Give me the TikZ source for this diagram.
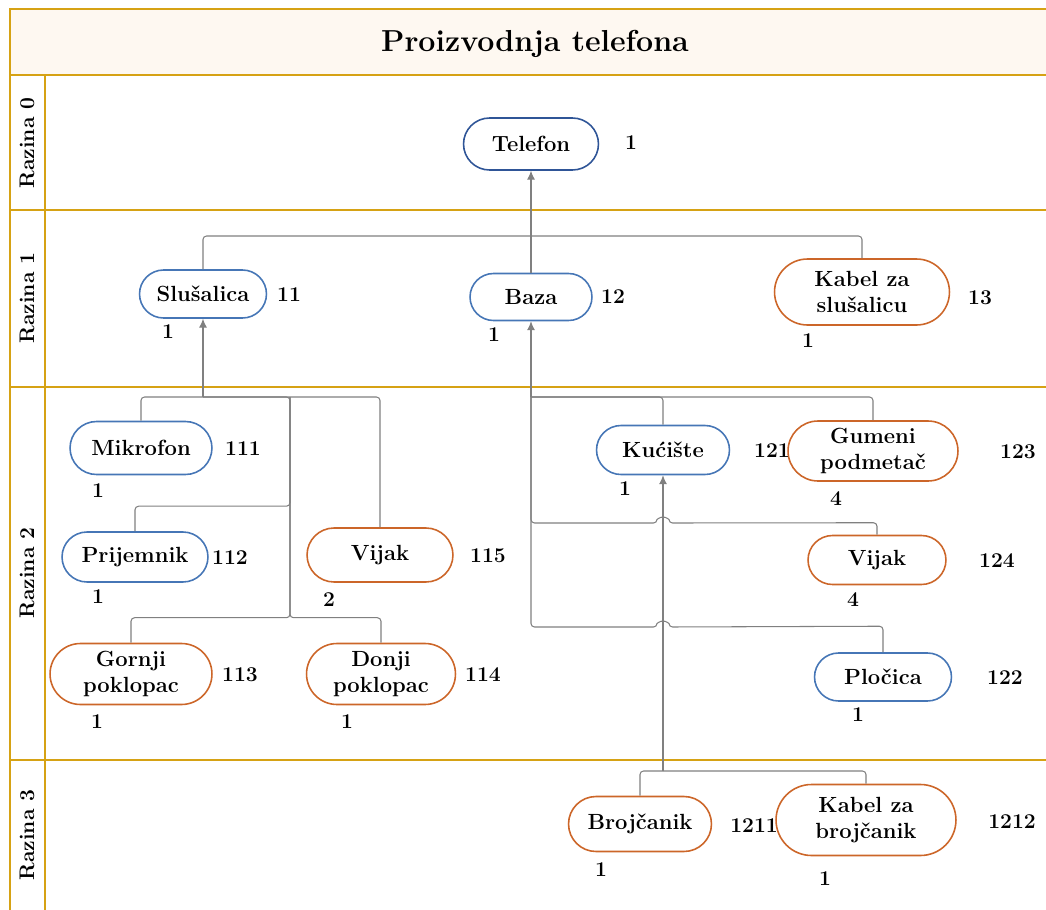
\documentclass[tikz,border=0pt]{standalone}
\usepackage{fontspec}
\usepackage{tikz}
\usetikzlibrary{arrows.meta,shapes.misc}
\definecolor{lanegold}{RGB}{214,162,20}
\definecolor{titlefill}{RGB}{254,248,241}
\definecolor{partblue}{RGB}{70,118,182}
\definecolor{topblue}{RGB}{47,85,151}
\definecolor{partorange}{RGB}{204,102,41}
\definecolor{linkgray}{RGB}{128,128,128}

\begin{document}
\begin{tikzpicture}[x=0.02cm, y=-0.02cm,
    part/.style={draw, line width=0.9pt, rounded rectangle, align=center,
        font=\fontsize{12.5}{15}\selectfont\bfseries, inner sep=2pt},
    make/.style={part, draw=partblue},
    buy/.style={part, draw=partorange},
    num/.style={font=\large\bfseries, inner sep=1pt},
    lane/.style={font=\large\bfseries, rotate=90},
    link/.style={draw=linkgray, line width=0.6pt, rounded corners=2pt},
    feed/.style={link, -{Latex[length=5pt,width=4.5pt]}}]

    \useasboundingbox (0,0) rectangle (1046,910);

    % lanes
    \fill[titlefill] (10,9) rectangle (1046,75);
    \draw[lanegold, line width=0.8pt] (1046,9) -- (10,9) -- (10,910);
    \draw[lanegold, line width=0.8pt] (10,75) -- (1046,75);
    \draw[lanegold, line width=0.8pt] (45,75) -- (45,910);
    \foreach \y in {210,387,760}
        \draw[lanegold, line width=1.1pt] (10,\y) -- (1046,\y);
    \node (title) at (535,44) {\LARGE\bfseries Proizvodnja telefona};
    \foreach \lvl/\y in {0/143,1/298,2/573,3/835}
        \node[lane] (lane\lvl) at (27,\y) {Razina \lvl};

    % razina 0 i 1
    \node[make, draw=topblue, minimum width=2.84cm, minimum height=1.04cm] (tel) at (531,144) {Telefon};
    \node[make, minimum width=2.68cm, minimum height=0.96cm] (slu) at (203,294) {Slušalica};
    \node[make, minimum width=2.58cm, minimum height=0.94cm] (baza) at (531,297) {Baza};
    \node[buy, minimum width=3.64cm, minimum height=1.32cm] (kab) at (862,292) {Kabel za\\slušalicu};

    % razina 2
    \node[make, minimum width=2.98cm, minimum height=1.06cm] (mik) at (141,448) {Mikrofon};
    \node[make, minimum width=3.06cm, minimum height=1.0cm] (pri) at (135,557) {Prijemnik};
    \node[buy, minimum width=3.06cm, minimum height=1.08cm] (vijA) at (380,555) {Vijak};
    \node[buy, minimum width=3.38cm, minimum height=1.22cm] (gor) at (131,674) {Gornji\\poklopac};
    \node[buy, minimum width=3.12cm, minimum height=1.22cm] (don) at (381,674) {Donji\\poklopac};
    \node[make, minimum width=2.8cm, minimum height=0.98cm] (kuc) at (663,450) {Kućište};
    \node[buy, minimum width=3.54cm, minimum height=1.2cm] (gum) at (873,451) {Gumeni\\podmetač};
    \node[buy, minimum width=2.9cm, minimum height=0.98cm] (vijB) at (877,560) {Vijak};
    \node[make, minimum width=2.88cm, minimum height=0.96cm] (plo) at (883,677) {Pločica};

    % razina 3
    \node[buy, minimum width=3.0cm, minimum height=1.1cm] (bro) at (640,824) {Brojčanik};
    \node[buy, minimum width=3.74cm, minimum height=1.42cm] (kbr) at (866,820) {Kabel za\\brojčanik};

    % sifre i kolicine
    \node[num] (tel-no) at (631,143) {1};
    \node[num] (slu-no) at (289,295) {11};   \node[num] (slu-qty) at (168,332) {1};
    \node[num] (baza-no) at (613,297) {12};  \node[num] (baza-qty) at (494,335) {1};
    \node[num] (kab-no) at (980,298) {13};   \node[num] (kab-qty) at (808,341) {1};
    \node[num] (mik-no) at (243,449) {111};  \node[num] (mik-qty) at (98,491) {1};
    \node[num] (pri-no) at (230,558) {112};  \node[num] (pri-qty) at (98,597) {1};
    \node[num] (vijA-no) at (488,556) {115}; \node[num] (vijA-qty) at (329,600) {2};
    \node[num] (gor-no) at (240,675) {113};  \node[num] (gor-qty) at (97,722) {1};
    \node[num] (don-no) at (483,675) {114};  \node[num] (don-qty) at (347,722) {1};
    \node[num] (kuc-no) at (772,451) {121};  \node[num] (kuc-qty) at (625,489) {1};
    \node[num] (gum-no) at (1018,452) {123}; \node[num] (gum-qty) at (836,499) {4};
    \node[num] (vijB-no) at (997,561) {124}; \node[num] (vijB-qty) at (853,600) {4};
    \node[num] (plo-no) at (1005,678) {122}; \node[num] (plo-qty) at (858,715) {1};
    \node[num] (bro-no) at (754,826) {1211}; \node[num] (bro-qty) at (601,870) {1};
    \node[num] (kbr-no) at (1012,822) {1212};\node[num] (kbr-qty) at (825,879) {1};

    % veze
    \coordinate (busT) at (531,236);
    \coordinate (busS) at (203,397);
    \coordinate (jS) at (290,397);
    \coordinate (busB) at (531,397);
    \coordinate (busK) at (663,771);

    \draw[feed] (baza.north) -- (tel.south);
    \draw[link] (slu.north) |- (busT);
    \draw[link] (kab.north) |- (busT);

    \draw[feed] (busS) -- (slu.south);
    \draw[link] (mik.north) |- (busS);
    \draw[link] (vijA.north) |- (busS);
    \draw[link] (pri.north) -- ++(0,-25) -| (jS) -- (busS);
    \draw[link] (gor.north) -- ++(0,-25) -| (jS);
    \draw[link] (don.north) -- ++(0,-25) -| (jS);

    \draw[feed] (busB) -- (baza.south);
    \draw[link] (kuc.north) |- (busB);
    \draw[link] (gum.north) |- (busB);
    \draw[link] (vijB.north) -- ++(0,-12) -- (669,523)
        arc[start angle=0, end angle=-180, radius=6] -- (531,523) -- (busB);
    \draw[link] (plo.north) -- ++(0,-26) -- (669,627)
        arc[start angle=0, end angle=-180, radius=6] -- (531,627) -- (busB);

    \draw[feed] (busK) -- (kuc.south);
    \draw[link] (bro.north) |- (busK);
    \draw[link] (kbr.north) |- (busK);

\end{tikzpicture}
\end{document}
